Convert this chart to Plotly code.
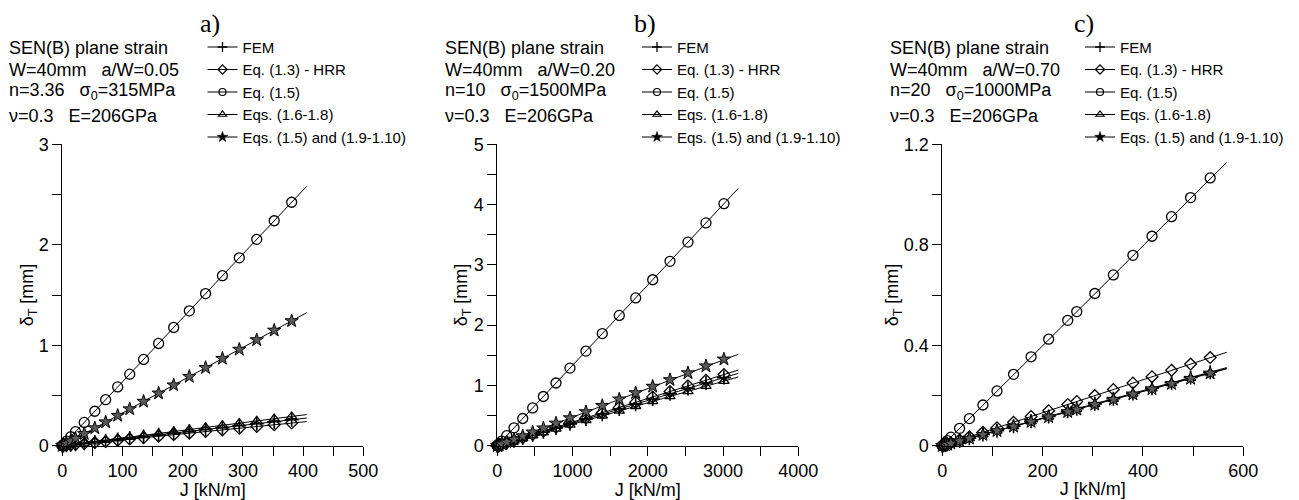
import plotly.graph_objects as go

# page is 1299x500; the HTML body adds an 8px margin, so the figure is 8px smaller
# and every page-pixel position below is shifted by OFF.
OFF = 8
W, H = 1299 - OFF, 500 - OFF


def px_x(p):
    return (p - OFF) / W


def px_y(p):
    return 1 - (p - OFF) / H


# ---------------- data : panel a) ----------------
J_a = [0, 2, 7, 14, 22, 36.5, 54, 72, 92, 112, 135, 160, 185, 211, 238, 266, 294, 323, 352, 381]
fem_a = [0, 0.0014, 0.0047, 0.0095, 0.0149, 0.0247, 0.0366, 0.0487, 0.0623, 0.0758, 0.0914, 0.1083,
         0.1252, 0.1428, 0.1611, 0.1801, 0.1990, 0.2187, 0.2383, 0.2579]
hrr_a = [0, 0.0012, 0.0041, 0.0083, 0.0130, 0.0216, 0.0319, 0.0426, 0.0544, 0.0662, 0.0798, 0.0946,
         0.1093, 0.1247, 0.1407, 0.1572, 0.1738, 0.1909, 0.2080, 0.2252]
eq15_a = [0, 0.013, 0.045, 0.089, 0.140, 0.232, 0.343, 0.458, 0.585, 0.712, 0.859, 1.018,
          1.177, 1.342, 1.514, 1.692, 1.870, 2.054, 2.239, 2.423]
eq16_a = [0, 0.0015, 0.0053, 0.0107, 0.0168, 0.0279, 0.0413, 0.0550, 0.0703, 0.0856, 0.1031, 0.1222,
          0.1413, 0.1612, 0.1818, 0.2032, 0.2246, 0.2468, 0.2689, 0.2911]
eq19_a = [0, 0.0065, 0.023, 0.046, 0.072, 0.119, 0.176, 0.235, 0.300, 0.365, 0.440, 0.522,
          0.603, 0.688, 0.776, 0.867, 0.958, 1.053, 1.148, 1.242]
Jline_a = [0, 406]
fem_line_a = [0, 0.275]
hrr_line_a = [0, 0.240]
eq15_line_a = [0, 2.582]
eq16_line_a = [0, 0.310]
eq19_line_a = [0, 1.324]

# ---------------- data : panel b) ----------------
J_b = [0, 4, 12, 25, 58, 125, 222, 338, 470, 612, 780, 966, 1178, 1395, 1621, 1839, 2065, 2295, 2534, 2773, 3012]
fem_b = [0, 0.0015, 0.0045, 0.0094, 0.0218, 0.0469, 0.0833, 0.1268, 0.1763, 0.2295, 0.2925, 0.3623,
         0.4418, 0.5231, 0.6079, 0.6896, 0.7744, 0.8606, 0.9503, 1.0399, 1.1295]
hrr_b = [0, 0.0016, 0.0047, 0.0098, 0.0227, 0.0490, 0.0870, 0.1325, 0.1842, 0.2399, 0.3058, 0.3787,
         0.4618, 0.5468, 0.6354, 0.7209, 0.8095, 0.8996, 0.9933, 1.0870, 1.1807]
eq15_b = [0, 0.0053, 0.016, 0.033, 0.077, 0.167, 0.296, 0.451, 0.627, 0.816, 1.040, 1.288,
          1.570, 1.860, 2.161, 2.451, 2.753, 3.059, 3.378, 3.696, 4.015]
eq16_b = [0, 0.0014, 0.0043, 0.0089, 0.0206, 0.0445, 0.0790, 0.1203, 0.1673, 0.2179, 0.2777, 0.3439,
          0.4194, 0.4966, 0.5771, 0.6547, 0.7351, 0.8170, 0.9021, 0.9872, 1.0723]
eq19_b = [0, 0.0019, 0.0057, 0.0119, 0.0276, 0.0595, 0.1057, 0.1609, 0.2237, 0.2913, 0.3713, 0.4598,
          0.5607, 0.6640, 0.7716, 0.8754, 0.9829, 1.0924, 1.2062, 1.3199, 1.4337]
Jline_b = [0, 3203]
fem_line_b = [0, 1.201]
hrr_line_b = [0, 1.255]
eq15_line_b = [0, 4.270]
eq16_line_b = [0, 1.140]
eq19_line_b = [0, 1.517]

# ---------------- data : panel c) ----------------
J_c = [0, 3, 6, 10, 17, 34.5, 54, 81, 109, 142, 177, 212, 250, 268, 304, 341, 380, 418, 457, 495, 534]
fem_c = [0, 0.0016, 0.0033, 0.0055, 0.0093, 0.0189, 0.0296, 0.0444, 0.0597, 0.0778, 0.0970, 0.1162,
         0.1370, 0.1469, 0.1666, 0.1869, 0.2082, 0.2291, 0.2504, 0.2713, 0.2926]
hrr_c = [0, 0.0020, 0.0039, 0.0066, 0.0112, 0.0227, 0.0355, 0.0532, 0.0716, 0.0933, 0.1163, 0.1393,
         0.1643, 0.1761, 0.1997, 0.2240, 0.2497, 0.2746, 0.3002, 0.3252, 0.3508]
eq15_c = [0, 0.006, 0.012, 0.020, 0.034, 0.069, 0.108, 0.162, 0.218, 0.284, 0.354, 0.424,
          0.499, 0.534, 0.606, 0.680, 0.758, 0.834, 0.912, 0.988, 1.066]
eq16_c = [0, 0.0016, 0.0033, 0.0054, 0.0092, 0.0187, 0.0293, 0.0440, 0.0592, 0.0771, 0.0961, 0.1151,
          0.1358, 0.1455, 0.1651, 0.1852, 0.2063, 0.2270, 0.2482, 0.2688, 0.2900]
eq19_c = [0, 0.0016, 0.0032, 0.0054, 0.0092, 0.0186, 0.0292, 0.0437, 0.0589, 0.0767, 0.0956, 0.1145,
          0.1350, 0.1447, 0.1642, 0.1841, 0.2052, 0.2257, 0.2468, 0.2673, 0.2884]
Jline_c = [0, 567]
fem_line_c = [0, 0.311]
hrr_line_c = [0, 0.372]
eq15_line_c = [0, 1.128]
eq16_line_c = [0, 0.308]
eq19_line_c = [0, 0.306]

series_names = ["FEM", "Eq. (1.3) - HRR", "Eq. (1.5)", "Eqs. (1.6-1.8)", "Eqs. (1.5) and (1.9-1.10)"]
panel_labels = ["a)", "b)", "c)"]
info_a = ["SEN(B) plane strain", "W=40mm\u00a0\u00a0\u00a0a/W=0.05",
          "n=3.36\u00a0\u00a0\u00a0σ<sub>0</sub>=315MPa", "ν=0.3\u00a0\u00a0\u00a0E=206GPa"]
info_b = ["SEN(B) plane strain", "W=40mm\u00a0\u00a0\u00a0a/W=0.20",
          "n=10\u00a0\u00a0\u00a0σ<sub>0</sub>=1500MPa", "ν=0.3\u00a0\u00a0\u00a0E=206GPa"]
info_c = ["SEN(B) plane strain", "W=40mm\u00a0\u00a0\u00a0a/W=0.70",
          "n=20\u00a0\u00a0\u00a0σ<sub>0</sub>=1000MPa", "ν=0.3\u00a0\u00a0\u00a0E=206GPa"]

# ---------------- styling ----------------
SANS = "Liberation Sans, Arial, sans-serif"
SERIF = "Liberation Serif, Times New Roman, serif"
styles = [
    dict(symbol="cross-thin", size=10, color="black", line=dict(width=1.6, color="black")),
    dict(symbol="diamond-open", size=9, color="black", line=dict(width=1.3, color="black")),
    dict(symbol="circle-open", size=10, color="black", line=dict(width=1.3, color="black")),
    dict(symbol="triangle-up-open", size=9, color="black", line=dict(width=1.3, color="black")),
    dict(symbol="star", size=10, color="#5a5a5a", line=dict(width=1.0, color="black")),
]
leg_styles = [
    dict(symbol="cross-thin", size=7, color="black", line=dict(width=1.3, color="black")),
    dict(symbol="diamond-open", size=7, color="black", line=dict(width=1.2, color="black")),
    dict(symbol="circle-open", size=7, color="black", line=dict(width=1.2, color="black")),
    dict(symbol="triangle-up-open", size=7, color="black", line=dict(width=1.2, color="black")),
    dict(symbol="star", size=8, color="black", line=dict(width=0.5, color="black")),
]

panels = [
    dict(J=J_a, ys=[fem_a, hrr_a, eq15_a, eq16_a, eq19_a], Jl=Jline_a,
         yl=[fem_line_a, hrr_line_a, eq15_line_a, eq16_line_a, eq19_line_a]),
    dict(J=J_b, ys=[fem_b, hrr_b, eq15_b, eq16_b, eq19_b], Jl=Jline_b,
         yl=[fem_line_b, hrr_line_b, eq15_line_b, eq16_line_b, eq19_line_b]),
    dict(J=J_c, ys=[fem_c, hrr_c, eq15_c, eq16_c, eq19_c], Jl=Jline_c,
         yl=[fem_line_c, hrr_line_c, eq15_line_c, eq16_line_c, eq19_line_c]),
]

fig = go.Figure()
legend_ids = ["legend", "legend2", "legend3"]
for p, pan in enumerate(panels):
    xa = "x" if p == 0 else f"x{p+1}"
    ya = "y" if p == 0 else f"y{p+1}"
    for k in range(5):
        fig.add_trace(go.Scatter(x=pan["Jl"], y=pan["yl"][k], mode="lines",
                                 line=dict(color="black", width=1), xaxis=xa, yaxis=ya,
                                 showlegend=False, hoverinfo="skip", cliponaxis=False))
    for k in range(5):
        fig.add_trace(go.Scatter(x=pan["J"], y=pan["ys"][k], mode="markers",
                                 marker=styles[k], xaxis=xa, yaxis=ya, name=series_names[k],
                                 showlegend=False, cliponaxis=False))
    for k in range(5):
        fig.add_trace(go.Scatter(x=[None], y=[None], mode="lines+markers", name=series_names[k],
                                 marker=leg_styles[k], line=dict(color="black", width=1),
                                 xaxis=xa, yaxis=ya, legend=legend_ids[p], showlegend=True))

# axes geometry (page pixels)
x_px = [(62.3, 363.3), (497.3, 798.3), (942.3, 1243.3)]
y_px = (144.3, 445.7)
xranges = [[0, 500], [0, 4000], [0, 600]]
xdt = [(100, 50), (1000, 500), (200, 100)]
yranges = [[0, 3], [0, 5], [0, 1.2]]
ydt = [(1, 0.5), (1, 0.5), (0.4, 0.2)]

tickfont = dict(family=SANS, size=18, color="black")
layout_axes = {}
for p in range(3):
    xs = "xaxis" if p == 0 else f"xaxis{p+1}"
    ys = "yaxis" if p == 0 else f"yaxis{p+1}"
    xa_anchor = "y" if p == 0 else f"y{p+1}"
    ya_anchor = "x" if p == 0 else f"x{p+1}"
    layout_axes[xs] = dict(
        domain=[px_x(x_px[p][0]), px_x(x_px[p][1])], range=xranges[p], anchor=xa_anchor,
        showline=True, linecolor="black", linewidth=1, showgrid=False, zeroline=False,
        ticks="outside", ticklen=9, tickwidth=1, tickcolor="black", dtick=xdt[p][0], tick0=0,
        minor=dict(dtick=xdt[p][1], tick0=0, ticks="outside", ticklen=9, tickwidth=1,
                   tickcolor="black", showgrid=False),
        tickfont=tickfont, automargin=False,
        title=dict(text="J [kN/m]", font=dict(family=SANS, size=18, color="black"), standoff=2),
    )
    layout_axes[ys] = dict(
        domain=[px_y(y_px[1]), px_y(y_px[0])], range=yranges[p], anchor=ya_anchor,
        showline=True, linecolor="black", linewidth=1, showgrid=False, zeroline=False,
        ticks="outside", ticklen=9, tickwidth=1, tickcolor="black", dtick=ydt[p][0], tick0=0,
        minor=dict(dtick=ydt[p][1], tick0=0, ticks="outside", ticklen=9, tickwidth=1,
                   tickcolor="black", showgrid=False),
        tickfont=tickfont, automargin=False,
        title=dict(text="δ<sub>T</sub> [mm]", font=dict(family=SANS, size=18, color="black"), standoff=0),
    )

annotations = []
title_x = [210, 645, 1084]
for p in range(3):
    annotations.append(dict(text=panel_labels[p], x=px_x(title_x[p]), y=px_y(24), xref="paper", yref="paper",
                            xanchor="center", yanchor="middle", showarrow=False,
                            font=dict(family=SERIF, size=26, color="black")))
info_x = [7.3, 442.7, 887.5]
info_y = [48.5, 69.5, 91, 116]
for p, info in enumerate([info_a, info_b, info_c]):
    for i, line in enumerate(info):
        annotations.append(dict(text=line, x=px_x(info_x[p]), y=px_y(info_y[i]), xref="paper", yref="paper",
                                xanchor="left", yanchor="middle", showarrow=False,
                                font=dict(family=SANS, size=18, color="black")))

legend_text_x = [242.5, 677.0, 1120.0]
legend_mid_y = 92.0
leg_layout = {}
for p in range(3):
    top = legend_mid_y - (5 + 2 * 22.5 + 11.25)
    leg_layout[legend_ids[p]] = dict(
        x=px_x(legend_text_x[p] - 40), y=px_y(top), xanchor="left", yanchor="top",
        bgcolor="rgba(0,0,0,0)", borderwidth=0, font=dict(family=SANS, size=15, color="black"),
        itemclick=False, itemdoubleclick=False, tracegroupgap=0,
    )

fig.update_layout(
    width=W, height=H, margin=dict(l=0, r=0, t=0, b=0),
    paper_bgcolor="white", plot_bgcolor="white",
    annotations=annotations, **layout_axes, **leg_layout,
)

fig.write_html("out.html")
